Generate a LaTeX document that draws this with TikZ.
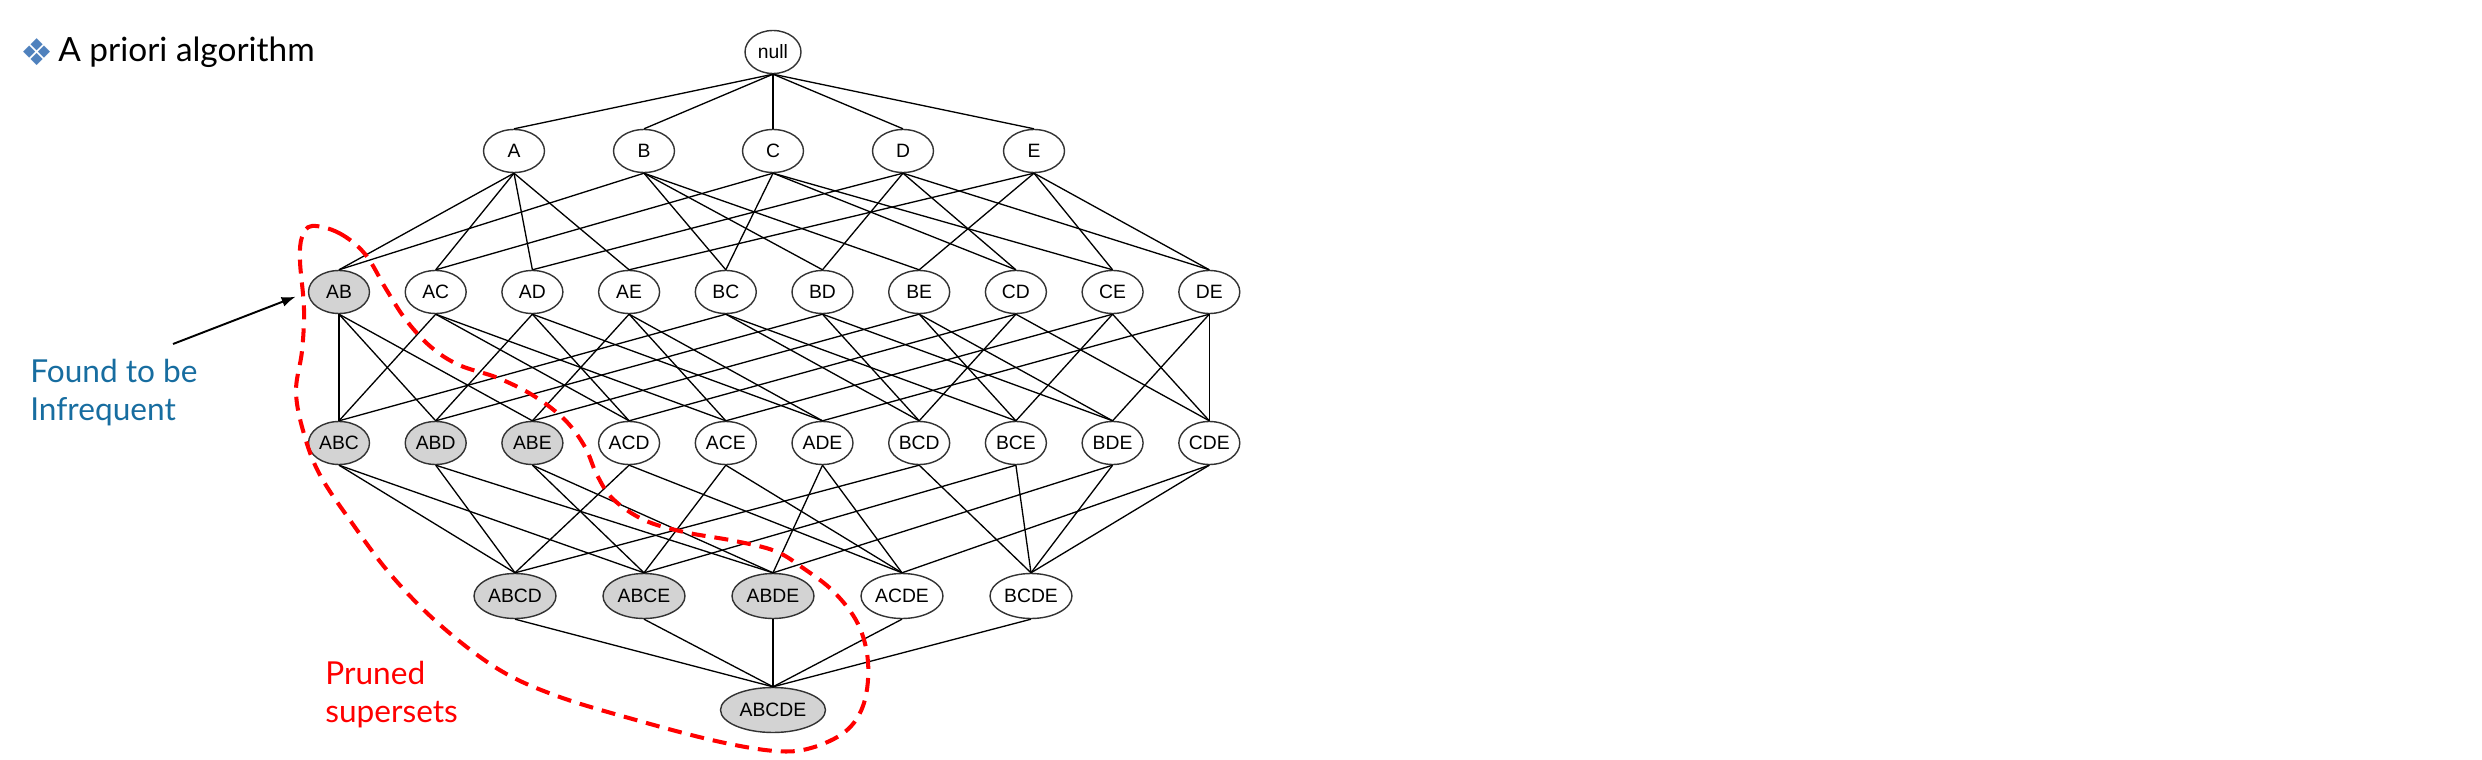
\documentclass[tikz,border=0pt]{standalone}
\usepackage{fontspec}
\setmainfont{Liberation Sans}
\newfontfamily\notefont{Lato}
\newfontfamily\symfont{DejaVu Sans}
\usetikzlibrary{arrows.meta,shapes.geometric}
\definecolor{bulletblue}{RGB}{79,129,189}
\definecolor{noteblue}{RGB}{23,109,160}
\definecolor{prunegray}{RGB}{211,211,211}

\begin{document}
\begin{tikzpicture}[x=0.02cm,y=-0.02cm,>=Latex,
  item/.style={ellipse,draw=black!80,line width=0.8pt,fill=white,inner sep=0pt,minimum width=1.22cm,minimum height=0.86cm,font=\fontsize{11}{13}\selectfont},
  pruned/.style={item,fill=prunegray},
  set4/.style={minimum width=1.64cm,minimum height=0.9cm},
  link/.style={line width=0.75pt},
  note/.style={font=\notefont\fontsize{18}{21.5}\selectfont,align=left,inner sep=0pt,anchor=base west}]
\useasboundingbox (0,0) rectangle (2482,760);
% heading
\node[font=\symfont\fontsize{21}{21}\selectfont,text=bulletblue,inner sep=0pt] (bullet) at (37,52) {❖};
\node[note,font=\notefont\fontsize{19}{22}\selectfont] (title) at (58,62) {A priori algorithm};
% lattice
\node[item,minimum width=1.12cm] (null) at (773,52) {null};
\node[item] (A) at (514,151) {A};
\node[item] (B) at (644,151) {B};
\node[item] (C) at (773,151) {C};
\node[item] (D) at (903,151) {D};
\node[item] (E) at (1034,151) {E};
\node[pruned] (AB) at (339,292) {AB};
\node[item] (AC) at (435.7,292) {AC};
\node[item] (AD) at (532.4,292) {AD};
\node[item] (AE) at (629.1,292) {AE};
\node[item] (BC) at (725.8,292) {BC};
\node[item] (BD) at (822.5,292) {BD};
\node[item] (BE) at (919.2,292) {BE};
\node[item] (CD) at (1015.9,292) {CD};
\node[item] (CE) at (1112.6,292) {CE};
\node[item] (DE) at (1209.3,292) {DE};
\node[pruned] (ABC) at (339,443) {ABC};
\node[pruned] (ABD) at (435.7,443) {ABD};
\node[pruned] (ABE) at (532.4,443) {ABE};
\node[item] (ACD) at (629.1,443) {ACD};
\node[item] (ACE) at (725.8,443) {ACE};
\node[item] (ADE) at (822.5,443) {ADE};
\node[item] (BCD) at (919.2,443) {BCD};
\node[item] (BCE) at (1015.9,443) {BCE};
\node[item] (BDE) at (1112.6,443) {BDE};
\node[item] (CDE) at (1209.3,443) {CDE};
\node[pruned,set4] (ABCD) at (515,596) {ABCD};
\node[pruned,set4] (ABCE) at (644,596) {ABCE};
\node[pruned,set4] (ABDE) at (773,596) {ABDE};
\node[item,set4] (ACDE) at (902,596) {ACDE};
\node[item,set4] (BCDE) at (1031,596) {BCDE};
\node[pruned,set4,minimum width=2.1cm] (ABCDE) at (773,710) {ABCDE};
\foreach \p/\kids in {null/{A,B,C,D,E},A/{AB,AC,AD,AE},B/{AB,BC,BD,BE},C/{AC,BC,CD,CE},D/{AD,BD,CD,DE},E/{AE,BE,CE,DE},
  AB/{ABC,ABD,ABE},AC/{ABC,ACD,ACE},AD/{ABD,ACD,ADE},AE/{ABE,ACE,ADE},BC/{ABC,BCD,BCE},BD/{ABD,BCD,BDE},BE/{ABE,BCE,BDE},CD/{ACD,BCD,CDE},CE/{ACE,BCE,CDE},DE/{ADE,BDE,CDE},
  ABC/{ABCD,ABCE},ABD/{ABCD,ABDE},ABE/{ABCE,ABDE},ACD/{ABCD,ACDE},ACE/{ABCE,ACDE},ADE/{ABDE,ACDE},BCD/{ABCD,BCDE},BCE/{ABCE,BCDE},BDE/{ABDE,BCDE},CDE/{ACDE,BCDE},
  ABCD/{ABCDE},ABCE/{ABCDE},ABDE/{ABCDE},ACDE/{ABCDE},BCDE/{ABCDE}}
  \foreach \k in \kids \draw[link] (\p.south) -- (\k.north);
% pruned region
\draw[red,line width=2.3pt,dash pattern=on 0.28cm off 0.18cm] plot[smooth cycle,tension=0.6] coordinates {
  (312,226) (339,233) (365,254) (386,289) (406,320) (431,347) (459,365) (498,378) (534,396) (565,420)
  (585,447) (597,475) (613,499) (644,520) (684,532) (735,541) (775,551) (803,568) (834,592) (858,624)
  (868,662) (864,703) (846,731) (811,748) (775,751) (716,741) (636,720) (557,696) (498,669) (439,624)
  (391,575) (352,523) (320,475) (304,434) (296,392) (302,351) (304,309) (300,261) (302,237)};
% notes
\coordinate (ftail) at (173,344);
\draw[-{Latex[length=0.28cm,width=0.2cm]},line width=1.1pt,shorten >=0.26cm] (ftail) -- (AB.west);
\node[note,text=noteblue] (found) at (30,420) {Found to be\\Infrequent};
\node[note,text=red] (prune) at (325,722) {Pruned\\supersets};
\end{tikzpicture}
\end{document}
